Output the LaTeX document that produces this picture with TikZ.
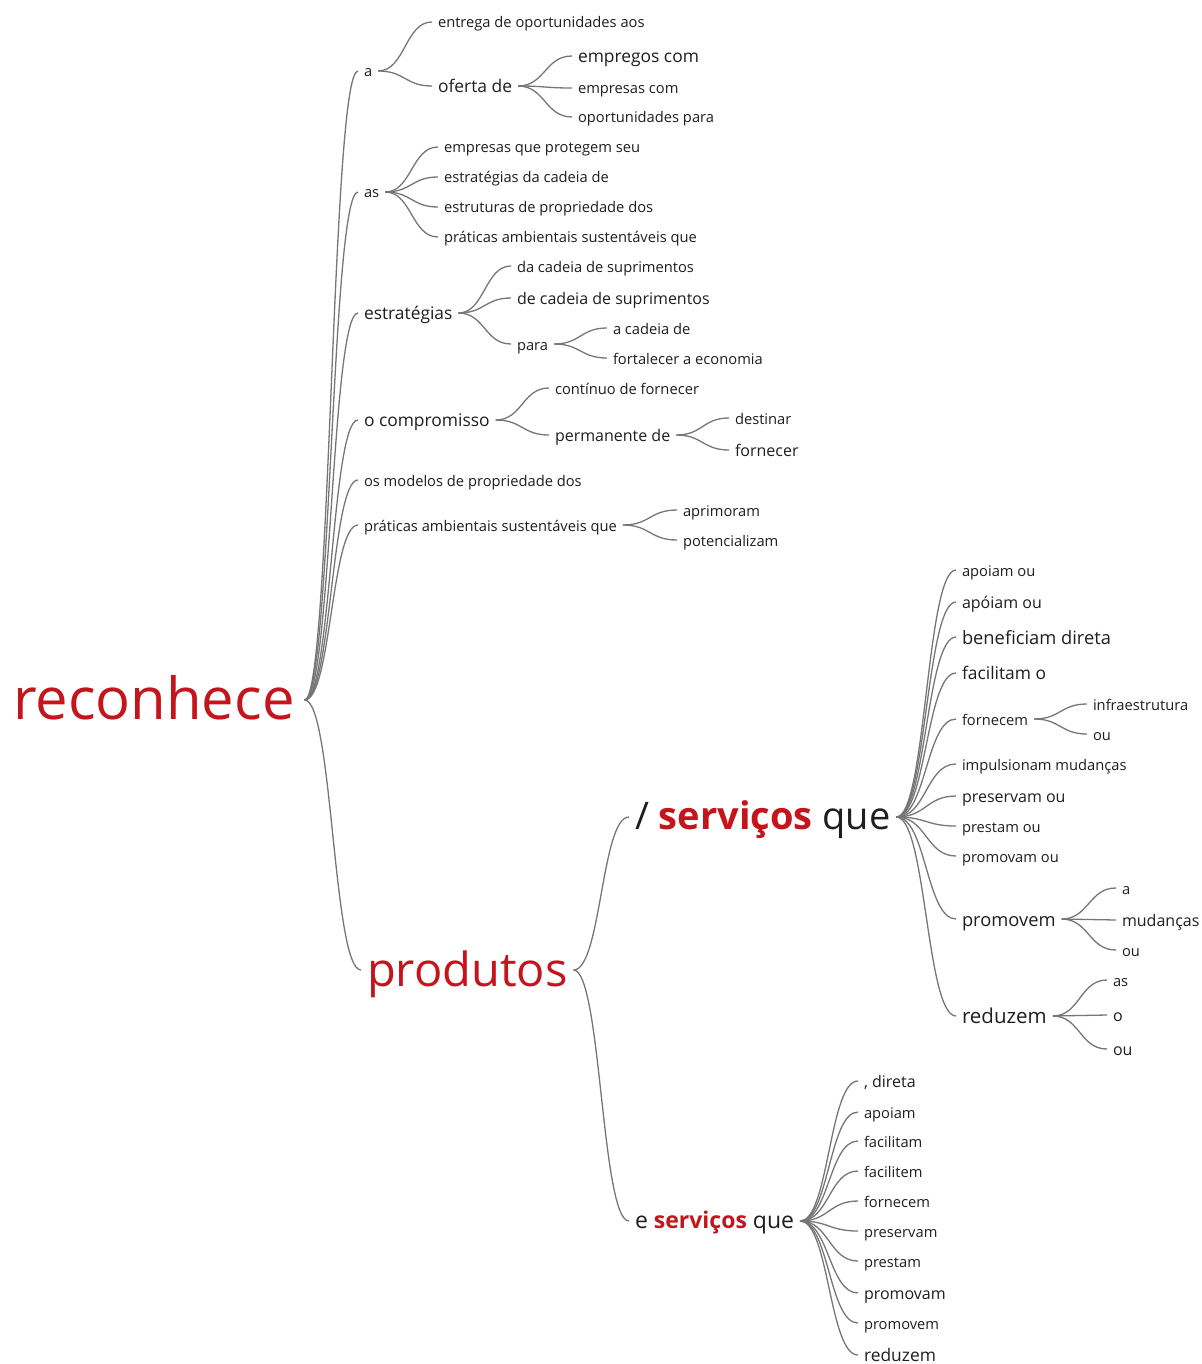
\documentclass[tikz,border=0pt]{standalone}
\usepackage{fontspec}
\setmainfont{Open Sans}
\usepackage{tikz}
\usetikzlibrary{calc}
\definecolor{wordred}{RGB}{196,20,28}
\definecolor{wordgray}{RGB}{118,118,118}
\definecolor{wordblack}{RGB}{30,30,30}
\tikzstyle{word}=[anchor=west, inner xsep=6pt, inner ysep=0pt, outer sep=0pt, text depth=0pt, text=wordblack]
\tikzstyle{w1}=[word, font=\fontsize{14.7}{16}\selectfont, text height=12pt]
\tikzstyle{w2}=[word, font=\fontsize{16}{18}\selectfont, text height=12.7pt]
\tikzstyle{w3}=[word, font=\fontsize{17.4}{19}\selectfont, text height=13.5pt]
\tikzstyle{w4}=[word, font=\fontsize{18.3}{20}\selectfont, text height=14pt]
\tikzstyle{w5}=[word, font=\fontsize{20.5}{22}\selectfont, text height=15.2pt]
\tikzstyle{root}=[word, inner xsep=10pt, text=wordred, font=\fontsize{58}{60}\selectfont, text height=38pt]
\tikzstyle{big}=[word, text=wordred, font=\fontsize{47}{50}\selectfont, text height=32pt]
\tikzstyle{mid}=[word, font=\fontsize{38}{40}\selectfont, text height=24pt]
\tikzstyle{sml}=[word, font=\fontsize{23}{25}\selectfont, text height=15.5pt]
\tikzstyle{br}=[draw=wordgray, line width=1.3pt, to path={let \p1=(\tikztostart.east), \p2=(\tikztotarget.west) in (\p1) .. controls (\x1/2+\x2/2,\y1) and (\x1/2+\x2/2,\y2) .. (\p2)}]
\newcommand{\red}[1]{\textcolor{wordred}{\bfseries #1}}

\begin{document}
\begin{tikzpicture}[x=1pt, y=-1pt]
\useasboundingbox (0,0) rectangle (1201,1364);

% root
\node[root] (rec) at (3,700) {reconhece};

% first level
\node[w1] (a) at (358,71) {a};
\node[w1] (as) at (358,192) {as};
\node[w3] (est) at (358,313) {estratégias};
\node[w3] (comp) at (358,420) {o compromisso};
\node[w1] (mod) at (358,480) {os modelos de propriedade dos};
\node[w1] (prat) at (358,525) {práticas ambientais sustentáveis que};
\node[big] (prod) at (361,970) {produtos};

% a
\node[w1] (a_ent) at (432,22) {entrega de oportunidades aos};
\node[w3] (a_of) at (432,86) {oferta de};
\node[w3] (of_emp) at (572,56) {empregos com};
\node[w1] (of_empr) at (572,88) {empresas com};
\node[w1] (of_op) at (572,117) {oportunidades para};

% as
\node[w1] (as_emp) at (438,147) {empresas que protegem seu};
\node[w1] (as_est) at (438,177) {estratégias da cadeia de};
\node[w1] (as_estr) at (438,207) {estruturas de propriedade dos};
\node[w1] (as_prat) at (438,237) {práticas ambientais sustentáveis que};

% estrategias
\node[w1] (est_da) at (511,266) {da cadeia de suprimentos};
\node[w2] (est_de) at (511,298) {de cadeia de suprimentos};
\node[w1] (est_para) at (511,344) {para};
\node[w1] (para_a) at (607,328) {a cadeia de};
\node[w1] (para_fort) at (607,358) {fortalecer a economia};

% o compromisso
\node[w1] (comp_cont) at (549,388) {contínuo de fornecer};
\node[w2] (comp_perm) at (549,435) {permanente de};
\node[w1] (perm_dest) at (729,418) {destinar};
\node[w2] (perm_forn) at (729,450) {fornecer};

% praticas
\node[w1] (prat_apr) at (677,510) {aprimoram};
\node[w1] (prat_pot) at (677,540) {potencializam};

% produtos
\node[mid] (serv) at (629,817) {/ \red{serviços} que};
\node[sml] (eserv) at (629,1221) {e \red{serviços} que};

% / servicos que
\node[w1] (s_apo) at (956,570) {apoiam ou};
\node[w2] (s_apo2) at (956,602) {apóiam ou};
\node[w4] (s_ben) at (956,637) {beneficiam direta};
\node[w3] (s_fac) at (956,673) {facilitam o};
\node[w1] (s_forn) at (956,719) {fornecem};
\node[w1] (s_imp) at (956,764) {impulsionam mudanças};
\node[w2] (s_pres) at (956,796) {preservam ou};
\node[w1] (s_prest) at (956,826) {prestam ou};
\node[w1] (s_proma) at (956,856) {promovam ou};
\node[w4] (s_prome) at (956,919) {promovem};
\node[w5] (s_red) at (956,1016) {reduzem};
\node[w1] (forn_inf) at (1087,704) {infraestrutura};
\node[w1] (forn_ou) at (1087,734) {ou};
\node[w1] (prom_a) at (1116,888) {a};
\node[w2] (prom_mud) at (1116,920) {mudanças};
\node[w1] (prom_ou) at (1116,950) {ou};
\node[w1] (red_as) at (1107,980) {as};
\node[w2] (red_o) at (1107,1015) {o};
\node[w2] (red_ou) at (1107,1049) {ou};

% e servicos que
\node[w2] (e_dir) at (858,1081) {, direta};
\node[w1] (e_apo) at (858,1112) {apoiam};
\node[w1] (e_faca) at (858,1141) {facilitam};
\node[w1] (e_face) at (858,1171) {facilitem};
\node[w1] (e_forn) at (858,1201) {fornecem};
\node[w1] (e_pres) at (858,1231) {preservam};
\node[w1] (e_prest) at (858,1261) {prestam};
\node[w2] (e_proma) at (858,1293) {promovam};
\node[w1] (e_prome) at (858,1323) {promovem};
\node[w3] (e_red) at (858,1355) {reduzem};

%paths
\path [br] (rec) to (a);
\path [br] (rec) to (as);
\path [br] (rec) to (est);
\path [br] (rec) to (comp);
\path [br] (rec) to (mod);
\path [br] (rec) to (prat);
\path [br] (rec) to (prod);

\path [br] (a) to (a_ent);
\path [br] (a) to (a_of);
\path [br] (a_of) to (of_emp);
\path [br] (a_of) to (of_empr);
\path [br] (a_of) to (of_op);

\path [br] (as) to (as_emp);
\path [br] (as) to (as_est);
\path [br] (as) to (as_estr);
\path [br] (as) to (as_prat);

\path [br] (est) to (est_da);
\path [br] (est) to (est_de);
\path [br] (est) to (est_para);
\path [br] (est_para) to (para_a);
\path [br] (est_para) to (para_fort);

\path [br] (comp) to (comp_cont);
\path [br] (comp) to (comp_perm);
\path [br] (comp_perm) to (perm_dest);
\path [br] (comp_perm) to (perm_forn);

\path [br] (prat) to (prat_apr);
\path [br] (prat) to (prat_pot);

\path [br] (prod) to (serv);
\path [br] (prod) to (eserv);

\path [br] (serv) to (s_apo);
\path [br] (serv) to (s_apo2);
\path [br] (serv) to (s_ben);
\path [br] (serv) to (s_fac);
\path [br] (serv) to (s_forn);
\path [br] (serv) to (s_imp);
\path [br] (serv) to (s_pres);
\path [br] (serv) to (s_prest);
\path [br] (serv) to (s_proma);
\path [br] (serv) to (s_prome);
\path [br] (serv) to (s_red);
\path [br] (s_forn) to (forn_inf);
\path [br] (s_forn) to (forn_ou);
\path [br] (s_prome) to (prom_a);
\path [br] (s_prome) to (prom_mud);
\path [br] (s_prome) to (prom_ou);
\path [br] (s_red) to (red_as);
\path [br] (s_red) to (red_o);
\path [br] (s_red) to (red_ou);

\path [br] (eserv) to (e_dir);
\path [br] (eserv) to (e_apo);
\path [br] (eserv) to (e_faca);
\path [br] (eserv) to (e_face);
\path [br] (eserv) to (e_forn);
\path [br] (eserv) to (e_pres);
\path [br] (eserv) to (e_prest);
\path [br] (eserv) to (e_proma);
\path [br] (eserv) to (e_prome);
\path [br] (eserv) to (e_red);

\end{tikzpicture}
\end{document}
